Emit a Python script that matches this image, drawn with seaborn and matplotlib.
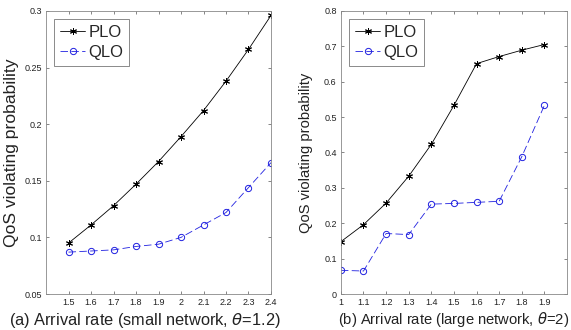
import numpy as np
import pandas as pd
import matplotlib
matplotlib.use("Agg")
import matplotlib.pyplot as plt
import seaborn as sns

sns.set_style("ticks")
plt.rcParams['font.family'] = ['Liberation Sans', 'DejaVu Sans']
plt.rcParams['mathtext.fontset'] = 'dejavusans'
plt.rcParams['xtick.direction'] = 'in'
plt.rcParams['ytick.direction'] = 'in'

# ---- data: (a) small network ----
rate_a = [1.5, 1.6, 1.7, 1.8, 1.9, 2.0, 2.1, 2.2, 2.3, 2.4]
plo_a = [0.095, 0.111, 0.128, 0.147, 0.167, 0.189, 0.212, 0.238, 0.266, 0.296]
qlo_a = [0.087, 0.088, 0.089, 0.092, 0.094, 0.100, 0.111, 0.122, 0.144, 0.166]

# ---- data: (b) large network ----
rate_b = [1.0, 1.1, 1.2, 1.3, 1.4, 1.5, 1.6, 1.7, 1.8, 1.9]
plo_b = [0.148, 0.196, 0.257, 0.333, 0.423, 0.533, 0.651, 0.671, 0.689, 0.705]
qlo_b = [0.067, 0.065, 0.171, 0.168, 0.254, 0.256, 0.259, 0.262, 0.388, 0.533]

xticks_a = rate_a
xticks_b = rate_b
yticks_a = [0.05, 0.1, 0.15, 0.2, 0.25, 0.3]
yticks_b = [0, 0.1, 0.2, 0.3, 0.4, 0.5, 0.6, 0.7, 0.8]


def fmt(v):
    s = f"{v:.2f}".rstrip('0').rstrip('.')
    return s


fig = plt.figure(figsize=(5.71, 3.30), dpi=100)
ax1 = fig.add_axes([0.0806, 0.109, 0.394, 0.858])
ax2 = fig.add_axes([0.597, 0.109, 0.396, 0.858])

# the two panels were scaled differently in the original, so text sizes differ
panels = [
    (ax1, rate_a, plo_a, qlo_a, (1.4, 2.4), (0.05, 0.3), xticks_a, yticks_a,
     r"(a) Arrival rate (small network, $\theta$=1.2)", 11.8, 12.6, 0.44, 2.5, 4),
    (ax2, rate_b, plo_b, qlo_b, (1.0, 2.0), (0.0, 0.8), xticks_b, yticks_b,
     r"(b) Arrival rate (large network, $\theta$=2)", 10.6, 10.6, 0.5, 2, 8),
]

asterisk = (6, 2, 0)

for ax, x, plo, qlo, xl, yl, xt, yt, xlab, xfs, yfs, xpos, xpad, ypad in panels:
    sns.lineplot(x=x, y=plo, ax=ax, color='black', marker=asterisk, markersize=5,
                 linewidth=0.6, markeredgewidth=0.7, markeredgecolor='black',
                 label='PLO')
    sns.lineplot(x=x, y=qlo, ax=ax, color='#2020e0', marker='o', markersize=4.5,
                 markerfacecolor='none', markeredgecolor='#2020e0',
                 linewidth=0.6, markeredgewidth=0.7, linestyle=(0, (9, 4)),
                 label='QLO')
    ax.set_xlim(*xl)
    ax.set_ylim(*yl)
    ax.set_xticks(xt)
    ax.set_xticklabels([fmt(v) for v in xt])
    ax.set_yticks(yt)
    ax.set_yticklabels([fmt(v) for v in yt])
    ax.tick_params(axis='both', labelsize=6.5, length=2.5, width=0.5,
                   color='#555555', top=True, right=True, labelcolor='#222222', pad=3)
    for sp in ax.spines.values():
        sp.set_visible(True)
        sp.set_linewidth(0.6)
        sp.set_color('#888888')
    ax.set_xlabel(xlab, fontsize=xfs, labelpad=xpad, color='#222222')
    ax.xaxis.label.set_x(xpos)
    ax.set_ylabel('QoS violating probability', fontsize=yfs, labelpad=ypad, color='#222222')
    leg = ax.legend(loc='upper left', fontsize=12, frameon=True, fancybox=False,
                    handlelength=1.5, handletextpad=0.2, borderpad=0.35,
                    labelspacing=0.3, borderaxespad=0.5)
    leg.get_frame().set_edgecolor('#555555')
    leg.get_frame().set_linewidth(0.6)

fig.savefig('out.png', dpi=100)
